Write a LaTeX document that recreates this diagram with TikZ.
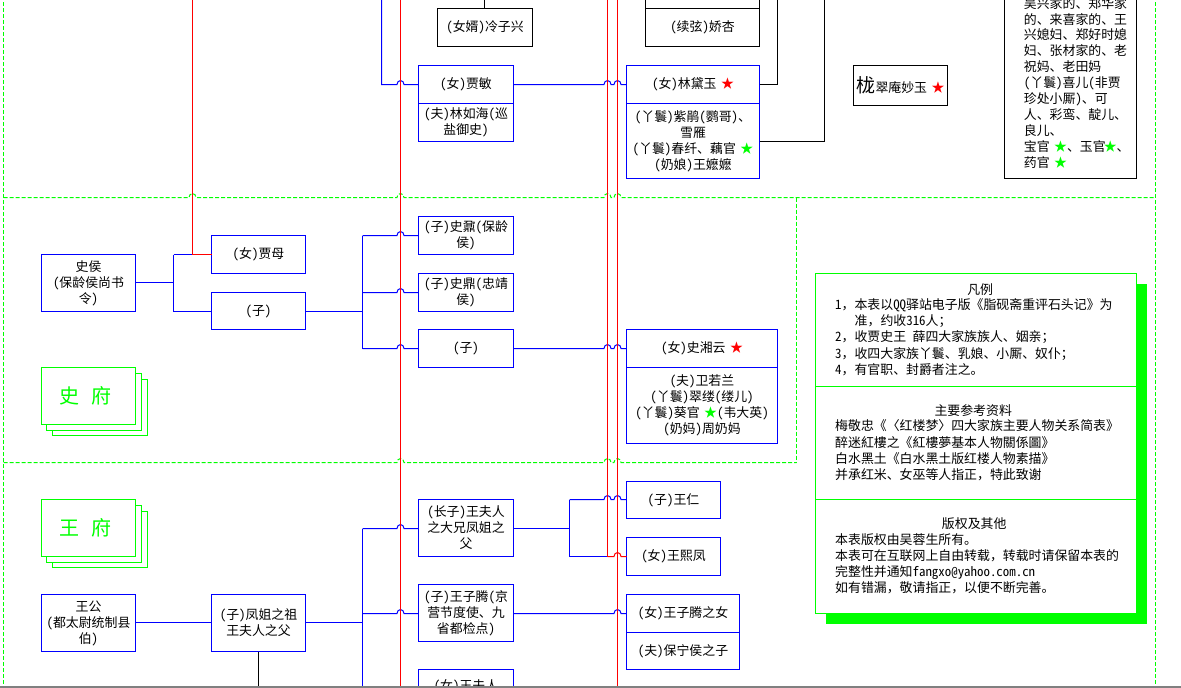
\documentclass[tikz,border=0pt]{standalone}
\usepackage{fontspec}
\usepackage{xcolor}
\setmainfont[RawFeature=+hwid]{Noto Sans CJK SC}
\newfontfamily\fullfont{Noto Sans CJK SC}
\newcommand{\fw}[1]{{\fullfont #1}}
\newcommand{\hop}[2]{-- ([xshift=-3.5pt]#1 |- #2) arc (180:0:3.5 and 4)}
\newcommand{\redstar}{\kern-2pt{\color{red}★}}
\newcommand{\greenstar}{\kern-2pt{\color{green}★}}
\tikzset{
  every node/.append style={inner sep=0pt,outer sep=0pt,align=center,font=\fontsize{12.9}{16}\selectfont},
  bluebox/.style={draw=blue,line width=1pt,minimum width=95pt,minimum height=38pt},
  blackbox/.style={draw=black,line width=1pt,minimum width=95pt,minimum height=38pt},
  stackbox/.style={draw=green,fill=white,line width=1pt,minimum width=94pt,minimum height=57pt},
  legendbox/.style={draw=green,fill=white,line width=1pt,minimum width=321pt},
  legendtext/.style={anchor=west,align=left,font=\fontsize{12.9}{16.2}\selectfont},
  bluelink/.style={draw=blue,line width=1pt},
  redlink/.style={draw=red,line width=1pt},
  blacklink/.style={draw=black,line width=1pt},
  gridline/.style={draw=green,line width=1pt,dash pattern=on 4pt off 2pt}
}
\begin{document}
\begin{tikzpicture}[x=1pt,y=1pt,shift={(0.2,-0.2)}]
\useasboundingbox (-0.2,0.2) rectangle (1180.8,-687.8);
% red lines
\coordinate (r0) at (192.3,10);
\coordinate (r1) at (400.3,10);
\coordinate (r2) at (607.3,10);
\coordinate (r3) at (617.3,10);
\coordinate (r1end) at (400.3,-688);
\coordinate (r3end) at (617.3,-688);
% frame
\coordinate (gl) at (3.3,10);
\coordinate (gr) at (1155.3,10);
\coordinate (gla) at (3.3,-197.3);
\coordinate (gra) at (1155.3,-197.3);
\coordinate (glb) at (3.3,-462.3);
\coordinate (grb) at (796.3,-462.3);
\coordinate (grc) at (796.3,-197.3);
\draw[gridline] (gl) -- (3.3,-688);
\draw[gridline] (gr) -- (1155.3,-688);
\draw[gridline] (grc) -- (grb);
\draw[gridline] (gla) \hop{r0}{gla} \hop{r1}{gla} \hop{r2}{gla} \hop{r3}{gla} -- (gra);
\draw[gridline] (glb) \hop{r1}{glb} \hop{r2}{glb} \hop{r3}{glb} -- (grb);

% top of the sheet
\node[blackbox] (lingzixing) at (484.8,-27.3) {(女婿)冷子兴};
\node[blackbox,minimum width=114pt] (upperbox) at (702.3,10.7) {};
\node[blackbox,minimum width=114pt] (jiaoxing) at (702.3,-27.3) {(续弦)娇杏};
\node[bluebox] (jiamin) at (465.8,-84.3) {(女)贾敏};
\node[bluebox] (jiaminfoot) at (465.8,-122.3) {(夫)林如海(巡\\盐御史)};
\node[bluebox,minimum width=133pt] (daiyu) at (692.8,-84.3) {(女)林黛玉 \redstar};
\node[bluebox,minimum width=133pt,minimum height=75pt] (daiyufoot) at (692.8,-140.8) {(丫鬟)紫鹃(鹦哥)、\\雪雁\\(丫鬟)春纤、藕官 \greenstar\\(奶娘)王嬷嬷};
\node[blackbox,minimum width=94pt,minimum height=40pt] (miaoyu) at (900.3,-85.3) {{\fontsize{19}{19}\selectfont 栊}翠庵妙玉 \redstar};
\node[blackbox,minimum width=132pt,minimum height=191pt] (servants) at (1070.3,-82.8) {};
\node[legendtext,font=\fontsize{12.9}{15.9}\selectfont] (servantstext) at (1023.7,-82.5) {吴兴家的、郑华家\\的、来喜家的、王\\兴媳妇、郑好时媳\\妇、张材家的、老\\祝妈、老田妈\\(丫鬟)喜儿(非贾\\珍处小厮)、可\\人、彩鸾、靛儿、\\良儿、\\宝官 \greenstar、玉官\greenstar、\\药官 \greenstar};
\coordinate (lingtop) at (484.3,10);
\coordinate (jiatop) at (381.3,10);
\coordinate (daiyutop) at (777.3,10);
\coordinate (foottop) at (824.3,10);
\draw[blacklink] (lingtop) -- (lingtop |- lingzixing.north);
\draw[blacklink] (daiyu.east) -| (daiyutop);
\draw[blacklink] (daiyufoot.east) -| (foottop);
\draw[bluelink] (jiatop) -- (jiatop |- jiamin.west) \hop{r1}{jiamin.west} -- (jiamin.west);
\draw[bluelink] (jiamin.east) \hop{r2}{jiamin.east} \hop{r3}{jiamin.east} -- (daiyu.west);

% shi
\node[bluebox,minimum width=94pt,minimum height=57pt] (shihou) at (88.3,-282.8) {史侯\\(保龄侯尚书\\令)};
\node[bluebox,minimum width=94pt] (jiamu) at (258.3,-254.3) {(女)贾母};
\node[bluebox,minimum width=94pt,minimum height=37pt] (shizi) at (258.3,-310.8) {（子）};
\node[bluebox] (shinai) at (465.8,-235.3) {(子)史鼐(保龄\\侯)};
\node[bluebox] (shiding) at (465.8,-292.3) {(子)史鼎(忠靖\\侯)};
\node[bluebox] (shisun) at (465.8,-348.3) {（子）};
\node[bluebox,minimum width=151pt] (xiangyun) at (701.8,-348.3) {(女)史湘云 \redstar};
\node[bluebox,minimum width=151pt,minimum height=76pt] (xiangyunfoot) at (701.8,-405.3) {(夫)卫若兰\\(丫鬟)翠缕(缕儿)\\(丫鬟)葵官 \greenstar(韦大英)\\(奶妈)周奶妈};
\coordinate (shifork) at (173.3,-282.3);
\coordinate (shibranch) at (362.3,-311.3);
\draw[bluelink] (shihou.east |- shifork) -- (shifork);
\draw[bluelink] (shifork |- jiamu.west) -- (shifork |- shibranch) -- (shizi.west |- shibranch);
\draw[bluelink] (shifork |- jiamu.west) -- (r0 |- jiamu.west);
\draw[redlink] (r0) -- (r0 |- jiamu.west) -- (jiamu.west);
\draw[bluelink] (shizi.east |- shibranch) -- (shibranch);
\draw[bluelink] (shibranch |- shinai.west) -- (shibranch |- shisun.west);
\draw[bluelink] (shibranch |- shinai.west) \hop{r1}{shinai.west} -- (shinai.west);
\draw[bluelink] (shibranch |- shiding.west) \hop{r1}{shiding.west} -- (shiding.west);
\draw[bluelink] (shibranch |- shisun.west) \hop{r1}{shisun.west} -- (shisun.west);
\draw[bluelink] (shisun.east) \hop{r2}{shisun.east} \hop{r3}{shisun.east} -- (xiangyun.west);

% fu stacks
\node[stackbox,minimum width=95pt,minimum height=56pt] (shifuc) at (99.8,-407.3) {};
\node[stackbox,minimum width=95pt] (shifub) at (93.8,-401.8) {};
\node[stackbox,text=green] (shifu) at (88.3,-395.8) {\fontsize{20}{20}\selectfont 史\hspace{12pt}府\hspace*{6pt}};
\node[stackbox,minimum width=95pt,minimum height=56pt] (wangfuc) at (99.8,-539.3) {};
\node[stackbox,minimum width=95pt] (wangfub) at (93.8,-533.8) {};
\node[stackbox,text=green] (wangfu) at (88.3,-527.8) {\fontsize{20}{20}\selectfont 王\hspace{12pt}府\hspace*{6pt}};

% wang
\node[bluebox,minimum width=94pt,minimum height=57pt] (wanggong) at (88.3,-622.8) {王公\\(都太尉统制县\\伯)};
\node[bluebox,minimum width=94pt,minimum height=57pt] (wangzu) at (258.3,-622.8) {(子)凤姐之祖\\王夫人之父};
\node[bluebox,minimum height=57pt] (wangda) at (465.8,-527.8) {(长子)王夫人\\之大兄凤姐之\\父};
\node[bluebox,minimum height=57pt] (ziteng) at (465.8,-612.8) {(子)王子腾(京\\营节度使、九\\省都检点)};
\node[bluebox,anchor=north,text height=11pt,text depth=40pt,inner ysep=10pt] (wangfuren) at (465.8,-669.3) {(女)王夫人};
\node[bluebox,minimum width=94pt,minimum height=37pt] (wangren) at (673.3,-499.8) {(子)王仁};
\node[bluebox,minimum width=94pt] (xifeng) at (673.3,-556.3) {(女)王熙凤};
\node[bluebox,minimum width=113pt] (zitengnv) at (682.8,-613.3) {(女)王子腾之女};
\node[bluebox,minimum width=113pt,minimum height=37pt] (zitengfoot) at (682.8,-650.8) {(夫)保宁侯之子};
\coordinate (wangbranch) at (362.3,-622.3);
\coordinate (wangend) at (362.3,-688);
\coordinate (wangdown) at (258.3,-688);
\coordinate (daifork) at (569.3,-528.3);
\coordinate (wangtop) at (362.3,-528.3);
\coordinate (zitengrow) at (362.3,-613.3);
\coordinate (wangrow) at (569.3,-499.3);
\draw[bluelink] (wanggong.east |- wangbranch) -- (wangzu.west |- wangbranch);
\draw[bluelink] (wangzu.east |- wangbranch) -- (wangbranch);
\draw[blacklink] (wangzu.south) -- (wangdown);
\draw[bluelink] (wangtop) -- (wangend);
\draw[bluelink] (wangtop) \hop{r1}{wangtop} -- (wangda.west |- wangtop);
\draw[bluelink] (zitengrow) \hop{r1}{zitengrow} -- (ziteng.west |- zitengrow);
\draw[bluelink] (wangda.east |- daifork) -- (daifork);
\draw[bluelink] (wangrow) -- (daifork |- xifeng.west) -- (r2 |- xifeng.west);
\draw[bluelink] (wangrow) \hop{r2}{wangrow} \hop{r3}{wangrow} -- (wangren.west |- wangrow);
\draw[redlink] (r2 |- xifeng.west) \hop{r3}{xifeng.west} -- (xifeng.west);
\draw[bluelink] (ziteng.east |- zitengrow) \hop{r3}{zitengrow} -- (zitengnv.west |- zitengrow);

% red verticals
\draw[redlink] (r1) -- (r1end);
\draw[redlink] (r2) -- (r2 |- xifeng.west);
\draw[redlink] (r3) -- (r3end);

% legend
\node[fill=green,minimum width=321pt,minimum height=340pt] (legendshade) at (986.5,-453.8) {};
\node[legendbox,minimum height=113pt] (legenda) at (975.8,-329.8) {};
\node[legendbox,minimum height=113pt] (legendb) at (975.8,-442.8) {};
\node[legendbox,minimum height=114pt] (legendc) at (975.8,-556.3) {};
\node (legendatitle) at (980,-289.3) {凡例};
\node[legendtext] (legendatext) at (835,-337) {1\fw{，}本表以QQ驿站电子版《脂砚斋重评石头记》为\\\hspace*{19.5pt}准\fw{，}约收316人\fw{；}\\2\fw{，}收贾史王 薛四大家族族人、姻亲\fw{；}\\3\fw{，}收四大家族丫鬟、乳娘、小厮、奴仆\fw{；}\\4\fw{，}有官职、封爵者注之。};
\node (legendbtitle) at (973,-410.3) {主要参考资料};
\node[legendtext] (legendbtext) at (835,-450.2) {梅敬忠《〈红楼梦〉四大家族主要人物关系简表》\\醉迷紅樓之《紅樓夢基本人物關係圖》\\白水黑土《白水黑土版红楼人物素描》\\并承红米、女巫等人指正\fw{，}特此致谢};
\node (legendctitle) at (974,-523.3) {版权及其他};
\node[legendtext] (legendctext) at (835,-563.5) {本表版权由吴蓉生所有。\\本表可在互联网上自由转载\fw{，}转载时请保留本表的\\完整性并通知fangxo@yahoo.com.cn\\如有错漏\fw{，}敬请指正\fw{，}以便不断完善。};

% bottom edge
\coordinate (edgea) at (0,-687);
\coordinate (edgeb) at (1181,-687);
\draw[draw=gray,line width=2pt] (edgea) -- (edgeb);
\end{tikzpicture}
\end{document}
